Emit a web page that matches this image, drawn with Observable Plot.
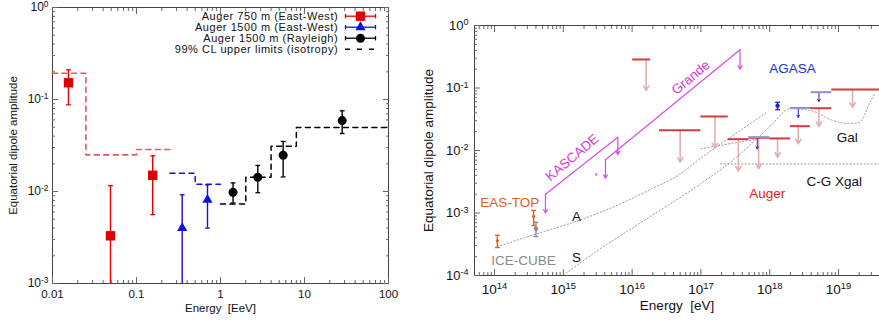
<!DOCTYPE html>
<html><head><meta charset="utf-8">
<script src="https://cdn.jsdelivr.net/npm/d3@7"></script>
<script src="https://cdn.jsdelivr.net/npm/@observablehq/plot@0.6"></script>
<style>
body{margin:0;background:#fff;}
#wrap{display:flex;width:879px;height:322px;overflow:hidden;}
svg{font-family:"Liberation Sans",Arial,sans-serif;}
</style></head><body><div id="wrap"></div>
<script>
// ================= LEFT PANEL DATA =================
const ew750E  = [0.0155, 0.049, 0.156];
const ew750A  = [0.152, 0.0033, 0.015];
const ew750Lo = [0.0875, 0.0002, 0.0056];
const ew750Hi = [0.21, 0.0116, 0.0244];

const ew1500E  = [0.35, 0.70];
const ew1500A  = [0.0040, 0.0081];
const ew1500Lo = [0.0002, 0.0040];
const ew1500Hi = [0.0092, 0.0118];

const rayE  = [1.41, 2.78, 5.57, 28.1];
const rayA  = [0.0098, 0.0143, 0.0248, 0.059];
const rayLo = [0.0075, 0.0097, 0.0144, 0.0427];
const rayHi = [0.0124, 0.0192, 0.035, 0.0754];

const ulRedE = [0.01, 0.025, 0.1, 0.25];
const ulRedA = [0.193, 0.025, 0.0286, 0.0286];
const ulBlueE = [0.25, 0.5, 1];
const ulBlueA = [0.0158, 0.012, 0.012];
const ulBlackE = [1, 2, 4, 8, 100];
const ulBlackA = [0.0073, 0.0143, 0.031, 0.0497, 0.0497];

const xTicksL = [0.01, 0.1, 1, 10, 100];
const xTickLabelsL = ["0.01", "0.1", "1", "10", "100"];
const yTicksL = [1e-3, 1e-2, 1e-1, 1];
const legendLabels = ["Auger 750 m (East-West)", "Auger 1500 m (East-West)", "Auger 1500 m (Rayleigh)", "99% CL upper limits (isotropy)"];

// ================= RIGHT PANEL DATA =================
const easE = [1.1e14, 3.7e14], easA = [3.6e-4, 8.8e-4], easLo = [2.8e-4, 6.3e-4], easHi = [4.4e-4, 1.1e-3];
const iceE = [4.0e14], iceA = [5.6e-4], iceLo = [4.2e-4], iceHi = [7.1e-4];

const kascadeE = [5.5e14, 6.2e15], kascadeA = [2.0e-3, 0.0163], kascadeArrowEnd = [1.0e-3, 8.6e-3];
const grandeE = [4.1e15, 3.7e17], grandeA = [7.1e-3, 0.41], grandeArrowEnd = [3.6e-3, 0.2];
const kasSmallE = [3.0e15], kasSmallA = [4.3e-3], kasSmallEnd = [4.0e-3];

const augerLo = [1.02e16, 2.5e16, 1.0e17, 2.5e17, 5.0e17, 1.0e18, 2.0e18, 3.9e18, 8.0e18];
const augerHi = [1.86e16, 1.0e17, 2.5e17, 5.0e17, 1.0e18, 2.0e18, 3.9e18, 8.0e18, 4.0e19];
const augerUL = [0.286, 0.021, 0.035, 0.0152, 0.016, 0.0156, 0.0245, 0.0475, 0.0946];
const augerArrowE = [1.6e16, 5.0e16, 1.6e17, 3.5e17, 6.9e17, 1.3e18, 2.6e18, 5.2e18, 1.6e19];
const augerArrowEnd = [0.091, 0.0065, 0.011, 0.0047, 0.0051, 0.0078, 0.0128, 0.0242, 0.049];

const agasaLo = [5.0e17, 2.0e18, 4.0e18];
const agasaHi = [1.0e18, 3.9e18, 8.0e18];
const agasaUL = [0.0163, 0.048, 0.0857];
const agasaArrowE = [6.6e17, 2.6e18, 5.2e18];
const agasaArrowEnd = [0.0106, 0.034, 0.061];
const agasaPtE = [1.3e18], agasaPtA = [0.052], agasaPtLo = [0.045], agasaPtHi = [0.059];

const curveAE = [1.1e14, 4.0e14, 1.4e15, 6.8e15, 2.0e16, 5.0e16, 1.0e17, 3.2e17, 9.1e17];
const curveAA = [2.9e-4, 4.6e-4, 7.1e-4, 1.4e-3, 2.5e-3, 4.2e-3, 7.6e-3, 0.0186, 0.041];
const curveSE = [1e15, 2.5e15, 1.5e16, 1e17, 3.2e17, 1e18, 2e18, 3.9e18, 8.5e18, 1.35e19, 2.0e19, 2.95e19, 3.3e19];
const curveSA = [1e-4, 2.1e-4, 7.6e-4, 2.95e-3, 7.6e-3, 0.024, 0.0465, 0.0437, 0.030, 0.027, 0.028, 0.063, 0.079];
const galLowE = [1.0e17, 9.3e17], galLowA = [0.0107, 0.0163];
const xgalE = [1.93e17, 4.0e19], xgalA = [0.0061, 0.0061];

const xTicksR = [1e14, 1e15, 1e16, 1e17, 1e18, 1e19];
const yTicksR = [1e-4, 1e-3, 1e-2, 1e-1, 1];

const annText = ["EAS-TOP", "ICE-CUBE", "A", "S", "KASCADE", "Grande", "AGASA", "Gal", "C-G Xgal", "Auger"];
const annE = [1.66e14, 2.63e14, 1.55e15, 1.55e15, 1.35e15, 7.1e16, 2.14e18, 1.34e19, 8.7e18, 9.2e17];
const annA = [1.49e-3, 1.74e-4, 8.8e-4, 1.96e-4, 7.7e-3, 0.147, 0.205, 0.0163, 3.19e-3, 2.03e-3];

// ================= HELPERS =================
const pow10 = d => "10^" + Math.round(Math.log10(d));
function minorTicks(lo, hi) {
  const out = [];
  for (let k = Math.floor(Math.log10(lo)); k <= Math.ceil(Math.log10(hi)); k++)
    for (let m = 2; m <= 9; m++) { const v = m * Math.pow(10, k); if (v > lo * 1.0001 && v < hi * 0.9999) out.push(v); }
  return out;
}
const hcap = {draw(ctx, size) { const w = Math.sqrt(size / Math.PI); ctx.moveTo(-w, 0); ctx.lineTo(w, 0); }};
const vcap = {draw(ctx, size) { const w = Math.sqrt(size / Math.PI); ctx.moveTo(0, -w); ctx.lineTo(0, w); }};
const rows = (...cols) => cols[0].map((_, i) => cols.map(c => c[i]));

function tickMarks(xMaj, xMin, yMaj, yMin, sides, col) {
  const m = [];
  for (const a of sides.x) {
    m.push(Plot.axisX(xMaj, {anchor: a, tickSize: -6, tickFormat: () => "", label: null, stroke: col}));
    m.push(Plot.axisX(xMin, {anchor: a, tickSize: -3, tickFormat: () => "", label: null, stroke: col}));
  }
  for (const a of sides.y) {
    m.push(Plot.axisY(yMaj, {anchor: a, tickSize: -6, tickFormat: () => "", label: null, stroke: col}));
    m.push(Plot.axisY(yMin, {anchor: a, tickSize: -3, tickFormat: () => "", label: null, stroke: col}));
  }
  return m;
}

function errSeries(E, A, Lo, Hi, color, symbol, r) {
  const d = rows(E, A, Lo, Hi);
  return [
    Plot.ruleX(d, {x: "0", y1: "2", y2: "3", stroke: color, strokeWidth: 1.4, clip: true}),
    Plot.dot(d, {x: "0", y: "2", symbol: hcap, r: 2.4, stroke: color, strokeWidth: 1.3, clip: true}),
    Plot.dot(d, {x: "0", y: "3", symbol: hcap, r: 2.4, stroke: color, strokeWidth: 1.3, clip: true}),
    Plot.dot(d, {x: "0", y: "1", symbol, r, fill: color, stroke: null})
  ];
}

// turn "10^k" tick labels into 10 with a raised exponent (real text + tspan)
function superscripts(svg) {
  svg.querySelectorAll("text").forEach(t => {
    const m = /^10\^(-?\d+)$/.exec(t.textContent);
    if (m) {
      t.textContent = "10";
      const ts = document.createElementNS("http://www.w3.org/2000/svg", "tspan");
      ts.setAttribute("dy", "-0.5em");
      ts.setAttribute("font-size", "70%");
      ts.textContent = m[1];
      t.appendChild(ts);
    } else if (legendLabels.includes(t.textContent)) {
      t.setAttribute("letter-spacing", "0.55");
    }
  });
}

// ================= LEFT PLOT =================
const mL = {top: 7, right: 32, bottom: 39, left: 52};
const W1 = 420, H = 322;
const xDomL = [0.01, 100], yDomL = [1e-3, 1];
const sxL = d3.scaleLog().domain(xDomL).range([mL.left, W1 - mL.right]);
const syL = d3.scaleLog().domain(yDomL).range([H - mL.bottom, mL.top]);

const RED = "#e00000", BLUE = "#1010e8", BLK = "#000";
const legRowsPx = [15.7, 26.7, 37.7, 48.8];
const legColors = [RED, BLUE, BLK, BLK];
const legData = legendLabels.map((t, i) => ({
  t, y: syL.invert(legRowsPx[i]), c: legColors[i],
  xt: sxL.invert(337.7), x1: sxL.invert(345), x2: sxL.invert(375), xm: sxL.invert(360)
}));

const left = Plot.plot({
  width: W1, height: H, marginTop: mL.top, marginRight: mL.right, marginBottom: mL.bottom, marginLeft: mL.left,
  style: {fontFamily: "Liberation Sans, Arial, sans-serif", background: "white", overflow: "visible"},
  x: {type: "log", domain: xDomL},
  y: {type: "log", domain: yDomL},
  color: {type: "identity"},
  marks: [
    Plot.frame({stroke: "#444", strokeWidth: 1}),
    ...tickMarks(xTicksL, minorTicks(...xDomL), yTicksL, minorTicks(...yDomL), {x: ["bottom", "top"], y: ["left", "right"]}, "#666"),
    Plot.axisX(xTicksL, {anchor: "bottom", tickSize: 0, tickPadding: 6, tickFormat: d => xTickLabelsL[xTicksL.indexOf(d)], fontSize: 11.5, label: null, fill: "#111"}),
    Plot.axisY(yTicksL, {anchor: "left", tickSize: 0, tickPadding: 4, tickFormat: pow10, fontSize: 12, label: null, fill: "#111"}),
    Plot.text(["Energy\u00a0 [EeV]"], {frameAnchor: "bottom", dy: 28, fontSize: 11.5, fill: "#111"}),
    Plot.text(["Equatorial dipole amplitude"], {frameAnchor: "left", textAnchor: "middle", dx: -39, rotate: -90, fontSize: 11.5, fill: "#111"}),
    // upper limits
    Plot.line(rows(ulRedE, ulRedA), {x: "0", y: "1", curve: "step-after", stroke: "#e05a5a", strokeWidth: 1.6, strokeDasharray: "5,4.5"}),
    Plot.line(rows(ulBlueE, ulBlueA), {x: "0", y: "1", curve: "step-after", stroke: BLUE, strokeWidth: 1.5, strokeDasharray: "5,4.5"}),
    Plot.line(rows(ulBlackE, ulBlackA), {x: "0", y: "1", curve: "step-after", stroke: BLK, strokeWidth: 1.5, strokeDasharray: "5,4.5"}),
    // data
    ...errSeries(ew750E, ew750A, ew750Lo, ew750Hi, RED, "square", 5.3),
    ...errSeries(ew1500E, ew1500A, ew1500Lo, ew1500Hi, BLUE, "triangle", 3.8),
    ...errSeries(rayE, rayA, rayLo, rayHi, BLK, "circle", 4.5),
    // legend
    Plot.text(legData, {x: "xt", y: "y", text: "t", textAnchor: "end", fontSize: 11, fill: "#111"}),
    Plot.ruleY(legData.slice(0, 3), {x1: "x1", x2: "x2", y: "y", stroke: "c", strokeWidth: 1.3}),
    Plot.dot(legData.slice(0, 3), {x: "x1", y: "y", symbol: vcap, r: 2.2, stroke: "c", strokeWidth: 1.3}),
    Plot.dot(legData.slice(0, 3), {x: "x2", y: "y", symbol: vcap, r: 2.2, stroke: "c", strokeWidth: 1.3}),
    Plot.dot(legData.slice(0, 1), {x: "xm", y: "y", symbol: "square", r: 5.3, fill: RED, stroke: null}),
    Plot.dot(legData.slice(1, 2), {x: "xm", y: "y", symbol: "triangle", r: 3.8, fill: BLUE, stroke: null}),
    Plot.dot(legData.slice(2, 3), {x: "xm", y: "y", symbol: "circle", r: 4.5, fill: BLK, stroke: null}),
    Plot.ruleY(legData.slice(3), {x1: "x1", x2: "x2", y: "y", stroke: "c", strokeWidth: 1.5, strokeDasharray: "5,7"})
  ]
});

// ================= RIGHT PLOT =================
const mR = {top: 25, right: 0, bottom: 47, left: 54};
const W2 = 459;
const xDomR = [Math.pow(10, 13.709), Math.pow(10, 19.596)], yDomR = [1e-4, 1];
const MAG = "#d94ee0", AUG = "#d23c3c", AUGA = "#e3b0b0", AGS = "#8e8ed8", AGB = "#2020e0", DOT = "#9a9a9a";

const augerRows = rows(augerLo, augerHi, augerUL, augerArrowE, augerArrowEnd);
const agasaRows = rows(agasaLo, agasaHi, agasaUL, agasaArrowE, agasaArrowEnd);
const annColors = ["#e0601c", "#8a8a8a", "#111", "#111", "#d63ad6", "#d63ad6", "#1c2ee0", "#111", "#111", "#e02020"];
const annRot = [0, 0, 0, 0, -40, -40, 0, 0, 0, 0];
const ann = annText.map((t, i) => ({t, e: annE[i], a: annA[i], c: annColors[i], r: annRot[i]}));

const right = Plot.plot({
  width: W2, height: H, marginTop: mR.top, marginRight: mR.right, marginBottom: mR.bottom, marginLeft: mR.left,
  style: {fontFamily: "Liberation Sans, Arial, sans-serif", background: "white"},
  x: {type: "log", domain: xDomR},
  y: {type: "log", domain: yDomR},
  marks: [
    Plot.ruleX([xDomR[0]], {stroke: "#444"}),
    Plot.ruleY(yDomR, {stroke: "#444"}),
    ...tickMarks(xTicksR, minorTicks(...xDomR), yTicksR, minorTicks(...yDomR), {x: ["bottom", "top"], y: ["left"]}, "#666"),
    Plot.axisX(xTicksR, {anchor: "bottom", tickSize: 0, tickPadding: 9, tickFormat: pow10, fontSize: 13.5, label: null, fill: "#111"}),
    Plot.axisY(yTicksR, {anchor: "left", tickSize: 0, tickPadding: 6, tickFormat: pow10, fontSize: 13, label: null, fill: "#111"}),
    Plot.text(["Energy\u00a0 [eV]"], {frameAnchor: "bottom", dy: 34, fontSize: 13.5, fill: "#111"}),
    Plot.text(["Equatorial dipole amplitude"], {frameAnchor: "left", textAnchor: "middle", dx: -46, rotate: -90, fontSize: 13.5, fill: "#111"}),
    // model curves
    Plot.line(rows(curveAE, curveAA), {x: "0", y: "1", curve: "monotone-x", stroke: DOT, strokeWidth: 1, strokeDasharray: "1.3,2.2"}),
    Plot.line(rows(curveSE, curveSA), {x: "0", y: "1", curve: "monotone-x", stroke: DOT, strokeWidth: 1, strokeDasharray: "1.3,2.2", clip: true}),
    Plot.line(rows(galLowE, galLowA), {x: "0", y: "1", stroke: DOT, strokeWidth: 1, strokeDasharray: "1.3,2.2"}),
    Plot.line(rows(xgalE, xgalA), {x: "0", y: "1", stroke: DOT, strokeWidth: 1, strokeDasharray: "1.3,2.2", clip: true}),
    // KASCADE / Grande
    Plot.line(rows(kascadeE, kascadeA), {x: "0", y: "1", stroke: MAG, strokeWidth: 1.2}),
    Plot.arrow(rows(kascadeE, kascadeA, kascadeArrowEnd), {x: "0", y1: "1", y2: "2", stroke: MAG, strokeWidth: 1.2, headLength: 5}),
    Plot.line(rows(grandeE, grandeA), {x: "0", y: "1", stroke: MAG, strokeWidth: 1.2}),
    Plot.arrow(rows(grandeE, grandeA, grandeArrowEnd), {x: "0", y1: "1", y2: "2", stroke: MAG, strokeWidth: 1.2, headLength: 5}),
    Plot.arrow(rows(kasSmallE, kasSmallA, kasSmallEnd), {x: "0", y1: "1", y2: "2", stroke: MAG, strokeWidth: 1.2, headLength: 3}),
    // Auger upper limits
    Plot.arrow(augerRows, {x: "3", y1: "2", y2: "4", stroke: AUGA, strokeWidth: 1.6, headLength: 5}),
    Plot.ruleY(augerRows, {x1: "0", x2: "1", y: "2", stroke: AUG, strokeWidth: 2, clip: true}),
    // AGASA
    Plot.arrow(agasaRows, {x: "3", y1: "2", y2: "4", stroke: AGB, strokeWidth: 1, headLength: 3.5}),
    Plot.ruleY(agasaRows, {x1: "0", x2: "1", y: "2", stroke: AGS, strokeWidth: 2}),
    ...errSeries(agasaPtE, agasaPtA, agasaPtLo, agasaPtHi, AGB, "circle", 2.2),
    // EAS-TOP, ICE-CUBE
    ...errSeries(easE, easA, easLo, easHi, "#e0601c", "circle", 1.6),
    ...errSeries(iceE, iceA, iceLo, iceHi, "#8a8a8a", "circle", 2.2),
    // annotations
    Plot.text(ann, {x: "e", y: "a", text: "t", fill: "c", rotate: "r", fontSize: 13.5})
  ]
});

superscripts(left);
superscripts(right);
document.getElementById("wrap").append(left, right);
</script>
</body></html>
